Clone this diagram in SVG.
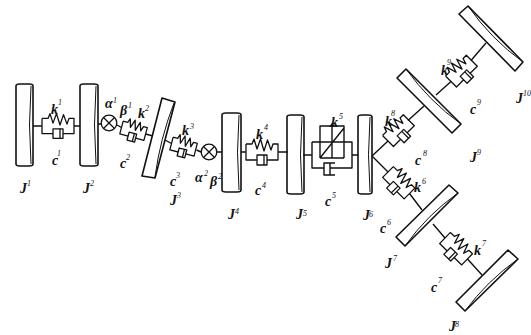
<svg xmlns="http://www.w3.org/2000/svg" width="531" height="335" viewBox="0 0 531 335">
<style>
.d,.u path,.u rect,.s,.x{fill:none;stroke:#111;stroke-width:1.3;stroke-linejoin:round;vector-effect:non-scaling-stroke}
.d{stroke-width:1.6}
.i{fill:none;stroke:#111;stroke-width:1;vector-effect:non-scaling-stroke}
.s{stroke-width:1.4}
text{font-family:"Liberation Serif","Times New Roman",serif;font-style:italic;font-weight:bold;fill:#111;font-size:14px}
text.n{font-size:8px;font-weight:normal}
</style>
<defs>
<g id="unit" class="u">
<path d="M0,-8V8H11M21,8H32V-8H27L25,-2L21.500,-12L18,-1L14.500,-13L11,-3L8,-13L6,-8H0"/>
<rect x="11" y="3" width="10" height="10"/>
<path d="M18,3V13"/>
</g>
<g id="xc"><circle r="7.800" class="x"/><path class="x" d="M-5.500,-5.500L5.500,5.500M-5.500,5.500L5.500,-5.500"/></g>
</defs>
<rect width="531" height="335" fill="#fff"/>
<g id="connectors">
<path class="s" d="M33,126H42M74,126H80M98,124H101M117,125L121.500,127.500M145.500,134L153,136M165,140L171.500,143.500M196.500,150L201,152M217,152H222M241,152H246M278,152H288M303,155H312M352,155H358M372,156L388,141M408,120.500L424,106M436,95L451,81.500M471,60.500L486,43M372,156L388,172M409.500,193.500L422,210M433,224L445,238M467.500,259L482,275"/>
</g>
<g id="J1"><rect class="d" x="16" y="84" width="17" height="82" rx="4" ry="2"/><path class="i" d="M31,86Q28,125 31,164"/></g>
<g id="J2"><rect class="d" x="80" y="84" width="18" height="82" rx="4" ry="2"/><path class="i" d="M96,86Q93,125 96,164"/></g>
<g id="J3"><path class="d" d="M162,98L175,102L155,178L142,176Z"/><path class="i" d="M174,103Q160,139 155,177"/></g>
<g id="J4"><rect class="d" x="222" y="113" width="19" height="79" rx="4" ry="2"/><path class="i" d="M239,115Q236,152 239,190"/></g>
<g id="J5"><rect class="d" x="287" y="115" width="17" height="79" rx="4" ry="2"/><path class="i" d="M302,117Q299,155 302,192"/></g>
<g id="J6"><rect class="d" x="358" y="115" width="14" height="79" rx="4" ry="2"/><path class="i" d="M370,117Q367,155 370,192"/></g>
<g id="J7"><path class="d" d="M396,237L405,246L458,193L449,185Z"/><path class="i" d="M405,246Q427,215 458,193"/></g>
<g id="J8"><path class="d" d="M456,302L465,311L518,259L508,250Z"/><path class="i" d="M465,311Q487,281 518,259"/></g>
<g id="J9"><path class="d" d="M397,78L406,69L461,124L452,133Z"/><path class="i" d="M406,69Q429,101 461,124"/></g>
<g id="J10"><path class="d" d="M459,14L468,6L523,62L515,71Z"/><path class="i" d="M468,6Q491,39 523,62"/></g>
<g id="SD1"><use href="#unit" transform="translate(42,126) scale(1,.95)"/></g>
<g id="SD2"><use href="#unit" transform="translate(121.500,127.500) rotate(15) scale(.78,.82)"/></g>
<g id="X1"><use href="#xc" x="109" y="123"/></g>
<g id="SD3"><use href="#unit" transform="translate(171.500,143.500) rotate(14.500) scale(.78,.82)"/></g>
<g id="X2"><use href="#xc" x="209" y="152"/></g>
<g id="SD4"><use href="#unit" transform="translate(246,152) scale(1,1)"/></g>
<g id="SD5">
<path class="s" d="M312,142V168H324M330,168H352V142H312M320,142V126H344V142M332,126V158M320,158H344M320,158L344,128M320,158V142M344,158V142M335,163H324V175H335M330,163V175"/>
<path d="M332,123L335,127H329Z" fill="#111"/>
</g>
<g id="SD6"><use href="#unit" transform="translate(388,172) rotate(45) scale(.95,.95)"/></g>
<g id="SD7"><use href="#unit" transform="translate(445,238) rotate(44) scale(.96,.97)"/></g>
<g id="SD8"><use href="#unit" transform="translate(388,141) rotate(-45) scale(.92,.97)"/></g>
<g id="SD9"><use href="#unit" transform="translate(451,81.500) rotate(-45) scale(.92,.97)"/></g>
<g id="labels" opacity="0.99">
<text x="20" y="193">J</text><text class="n" x="27" y="186">1</text>
<text x="83" y="193">J</text><text class="n" x="90" y="186">2</text>
<text x="170" y="205">J</text><text class="n" x="177" y="198">3</text>
<text x="228" y="219">J</text><text class="n" x="235" y="214">4</text>
<text x="296" y="219">J</text><text class="n" x="303" y="216">5</text>
<text x="363" y="220">J</text><text class="n" x="369" y="217">6</text>
<text x="385" y="268">J</text><text class="n" x="393" y="261">7</text>
<text x="449" y="331">J</text><text class="n" x="455" y="327">8</text>
<text x="470" y="162">J</text><text class="n" x="477" y="155">9</text>
<text x="516" y="103">J</text><text class="n" x="523" y="96">10</text>
<text x="51" y="114">k</text><text class="n" x="58" y="105">1</text>
<text x="138" y="118">k</text><text class="n" x="145" y="111">2</text>
<text x="182" y="135">k</text><text class="n" x="190" y="129">3</text>
<text x="256" y="139">k</text><text class="n" x="264" y="130">4</text>
<text x="331" y="127">k</text><text class="n" x="339" y="119">5</text>
<text x="414" y="192">k</text><text class="n" x="422" y="184">6</text>
<text x="474" y="255">k</text><text class="n" x="482" y="246">7</text>
<text x="385" y="126">k</text><text class="n" x="391" y="116">8</text>
<text x="441" y="75">k</text><text class="n" x="447" y="65">9</text>
<text x="52" y="165">c</text><text class="n" x="57" y="156">1</text>
<text x="120" y="168">c</text><text class="n" x="126" y="160">2</text>
<text x="170" y="186">c</text><text class="n" x="176" y="178">3</text>
<text x="255" y="195">c</text><text class="n" x="262" y="188">4</text>
<text x="325" y="206">c</text><text class="n" x="332" y="198">5</text>
<text x="380" y="233">c</text><text class="n" x="387" y="225">6</text>
<text x="431" y="292">c</text><text class="n" x="438" y="283">7</text>
<text x="415" y="165">c</text><text class="n" x="423" y="156">8</text>
<text x="470" y="114">c</text><text class="n" x="477" y="105">9</text>
<text x="105" y="108">α</text><text class="n" x="113" y="103">1</text>
<text x="195" y="182">α</text><text class="n" x="204" y="176">2</text>
<text x="120" y="115">β</text><text class="n" x="128" y="108">1</text>
<text x="210" y="186">β</text><text class="n" x="218" y="179">2</text>
</g>
</svg>
